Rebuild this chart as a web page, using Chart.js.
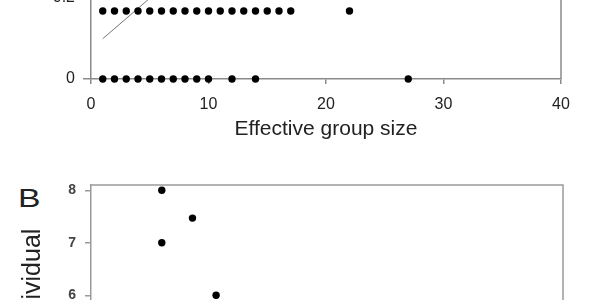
<!DOCTYPE html>
<html>
<head>
<meta charset="utf-8">
<script src="https://cdn.jsdelivr.net/npm/chart.js@4.4.1/dist/chart.umd.min.js"></script>
<style>
  html, body { margin: 0; padding: 0; width: 600px; height: 300px; overflow: hidden; background: #fff; }
  #chartA { position: absolute; left: 0; top: -20px; }
  #chartB { position: absolute; left: 0; top: 160px; }
  #panelB {
    position: absolute; left: 18px; top: 185px;
    font: 26px "Liberation Sans", Arial, sans-serif; line-height: 26px; color: #222;
    transform: scaleX(1.3); transform-origin: left top;
  }
</style>
</head>
<body>
<canvas id="chartA" width="600" height="170"></canvas>
<div id="panelB">B</div>
<canvas id="chartB" width="600" height="440"></canvas>
<script>
// panel A: proportion vs effective group size
const groupSizeUpper = [1, 2, 3, 4, 5, 6, 7, 8, 9, 10, 11, 12, 13, 14, 15, 16, 17, 22];
const proportionUpper = [0.167, 0.167, 0.167, 0.167, 0.167, 0.167, 0.167, 0.167, 0.167,
                         0.167, 0.167, 0.167, 0.167, 0.167, 0.167, 0.167, 0.167, 0.167];
const groupSizeLower = [1, 2, 3, 4, 5, 6, 7, 8, 9, 10, 12, 14, 27];
const proportionLower = [0, 0, 0, 0, 0, 0, 0, 0, 0, 0, 0, 0, 0];
const fitGroupSize = [1, 8];
const fitProportion = [0.099, 0.273];

// panel B
const groupSizeB = [6, 8.6, 6, 10.6];
const perIndividualB = [8, 7.47, 7, 6];

const font = '"Liberation Sans", Arial, sans-serif';
const zip = (xs, ys) => xs.map((x, i) => ({ x: x, y: ys[i] }));

// draws top and right edges of the plot area
const framePlugin = {
  id: 'frame',
  beforeDatasetsDraw(chart, args, opts) {
    const { ctx, chartArea: a } = chart;
    ctx.save();
    ctx.strokeStyle = opts.color;
    ctx.lineWidth = opts.width;
    ctx.beginPath();
    ctx.moveTo(a.left, a.top);
    ctx.lineTo(a.right, a.top);
    ctx.lineTo(a.right, a.bottom);
    ctx.stroke();
    ctx.restore();
  }
};

const dots = (data) => ({
  data: data,
  backgroundColor: '#000',
  borderWidth: 0,
  pointRadius: 3.7,
  clip: false
});

new Chart(document.getElementById('chartA'), {
  type: 'scatter',
  data: {
    datasets: [
      dots(zip(groupSizeUpper, proportionUpper)),
      dots(zip(groupSizeLower, proportionLower)),
      {
        type: 'line',
        data: zip(fitGroupSize, fitProportion),
        borderColor: '#777',
        borderWidth: 1,
        pointRadius: 0,
        fill: false
      }
    ]
  },
  options: {
    responsive: false,
    animation: false,
    layout: { padding: { top: 17, right: 39, left: 0, bottom: 0 } },
    plugins: {
      legend: { display: false },
      tooltip: { enabled: false },
      frame: { color: '#8a8a8a', width: 1.5 }
    },
    scales: {
      x: {
        type: 'linear',
        min: 0,
        max: 40,
        afterFit: (s) => { s.height = 71; },
        border: { display: true, color: '#8a8a8a', width: 1.5 },
        grid: { drawOnChartArea: false, color: '#8a8a8a', lineWidth: 1.5, tickLength: 5 },
        ticks: { stepSize: 10, padding: 11, color: '#222', font: { family: font, size: 16 } },
        title: {
          display: true,
          text: 'Effective group size',
          color: '#222',
          font: { family: font, size: 21 },
          padding: { top: 0, bottom: 8 }
        }
      },
      y: {
        min: 0,
        max: 0.2,
        afterFit: (s) => { s.width = 91; },
        border: { display: true, color: '#8a8a8a', width: 1.5 },
        grid: { drawOnChartArea: false, color: '#8a8a8a', lineWidth: 1.5, tickLength: 8 },
        ticks: { stepSize: 0.2, padding: 8, color: '#222', font: { family: font, size: 16 } }
      }
    }
  },
  plugins: [framePlugin]
});

new Chart(document.getElementById('chartB'), {
  type: 'scatter',
  data: {
    datasets: [dots(zip(groupSizeB, perIndividualB))]
  },
  options: {
    responsive: false,
    animation: false,
    layout: { padding: { top: 25, right: 37, left: 0, bottom: 0 } },
    plugins: {
      legend: { display: false },
      tooltip: { enabled: false },
      frame: { color: '#9a9a9a', width: 1.5 }
    },
    scales: {
      x: {
        type: 'linear',
        min: 0,
        max: 40,
        afterFit: (s) => { s.height = 79; },
        border: { display: true, color: '#9a9a9a', width: 1.5 },
        grid: { drawOnChartArea: false, color: '#9a9a9a', lineWidth: 1.5, tickLength: 5 },
        ticks: { stepSize: 10, padding: 11, color: '#222', font: { family: font, size: 16 } },
        title: {
          display: true,
          text: 'Effective group size',
          color: '#222',
          font: { family: font, size: 21 },
          padding: { top: 0, bottom: 8 }
        }
      },
      y: {
        min: 1.7,
        max: 8.1,
        afterFit: (s) => { s.width = 91; },
        border: { display: true, color: '#9a9a9a', width: 1.5 },
        grid: { drawOnChartArea: false, color: '#9a9a9a', lineWidth: 1.5, tickLength: 6 },
        ticks: {
          stepSize: 1,
          includeBounds: false,
          padding: 9,
          color: '#444',
          font: { family: font, size: 14, weight: 'bold' }
        },
        title: {
          display: true,
          text: 'Partners per individual',
          color: '#222',
          font: { family: font, size: 25 },
          padding: { top: 18, bottom: 0 }
        }
      }
    }
  },
  plugins: [framePlugin]
});
</script>
</body>
</html>
